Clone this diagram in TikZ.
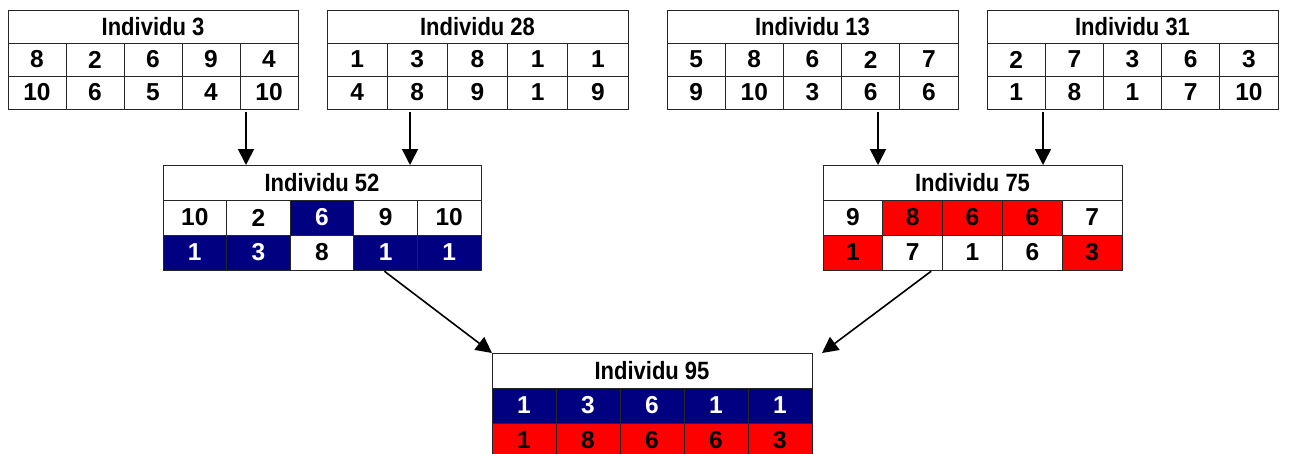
\documentclass[tikz,border=0pt]{standalone}
\usepackage{fontspec}
\setmainfont{Liberation Sans}
\newfontfamily\titlefont{Liberation Sans}[FakeStretch=0.88]
\usetikzlibrary{arrows.meta}
\definecolor{gnavy}{RGB}{0,0,128}
\definecolor{gred}{RGB}{255,0,0}
\tikzset{
  base/.style={draw=black!85, line width=0.9pt, inner sep=0pt, outer sep=0pt,
    anchor=north west, font=\bfseries\fontsize{24.5}{24.5}\selectfont},
  titlecell/.style={base, fill=white, font=\titlefont\bfseries\fontsize{25}{25}\selectfont},
  cw/.style={base, fill=white, text=black},
  cb/.style={base, fill=gnavy, text=white},
  cr/.style={base, fill=gred, text=black},
  arr/.style={line width=1.6pt, -{Triangle[width=16pt,length=16pt]}},
}
% #1 name, #2 left, #3 top, #4 column width, #5 row height,
% #6 title, #7 upper row (value/style), #8 lower row (value/style)
\newcommand\gtable[8]{%
  \node[titlecell, minimum width={5*#4}, minimum height=#5] (#1) at (#2,#3) {#6};
  \foreach \v/\s [count=\i] in {#7}
    \node[\s, minimum width=#4, minimum height=#5] (#1-a\i) at ({#2+(\i-1)*#4},{#3+#5}) {\v};
  \foreach \v/\s [count=\i] in {#8}
    \node[\s, minimum width=#4, minimum height=#5] (#1-b\i) at ({#2+(\i-1)*#4},{#3+2*#5}) {\v};
}
\begin{document}
\begin{tikzpicture}[x=1pt, y=-1pt]
  \useasboundingbox (0,0) rectangle (1289,453);
  % parents
  \gtable{t3}{8}{10}{58}{33}{Individu 3}
    {8/cw,2/cw,6/cw,9/cw,4/cw}{10/cw,6/cw,5/cw,4/cw,10/cw}
  \gtable{t28}{327}{10}{60.2}{33}{Individu 28}
    {1/cw,3/cw,8/cw,1/cw,1/cw}{4/cw,8/cw,9/cw,1/cw,9/cw}
  \gtable{t13}{667}{10}{58.2}{33}{Individu 13}
    {5/cw,8/cw,6/cw,2/cw,7/cw}{9/cw,10/cw,3/cw,6/cw,6/cw}
  \gtable{t31}{987}{10}{58.2}{33}{Individu 31}
    {2/cw,7/cw,3/cw,6/cw,3/cw}{1/cw,8/cw,1/cw,7/cw,10/cw}
  % offspring
  \gtable{t52}{163}{165}{63.6}{35}{Individu 52}
    {10/cw,2/cw,6/cb,9/cw,10/cw}{1/cb,3/cb,8/cw,1/cb,1/cb}
  \gtable{t75}{823}{165}{59.8}{35}{Individu 75}
    {9/cw,8/cr,6/cr,6/cr,7/cw}{1/cr,7/cw,1/cw,6/cw,3/cr}
  \gtable{t95}{492}{353}{64}{35}{Individu 95}
    {1/cb,3/cb,6/cb,1/cb,1/cb}{1/cr,8/cr,6/cr,6/cr,3/cr}
  % connectors
  \draw[arr, shorten <=3pt] ([xshift=238pt]t3-b1.south west) -- ([xshift=238pt]t3-b1.south west |- t52.north);
  \draw[arr, shorten <=3pt] ([xshift=83pt]t28-b1.south west) -- ([xshift=83pt]t28-b1.south west |- t52.north);
  \draw[arr, shorten <=3pt] ([xshift=211pt]t13-b1.south west) -- ([xshift=211pt]t13-b1.south west |- t75.north);
  \draw[arr, shorten <=3pt] ([xshift=56pt]t31-b1.south west) -- ([xshift=56pt]t31-b1.south west |- t75.north);
  \draw[arr, shorten <=2pt] ([xshift=29pt]t52-b4.south west) -- (t95.north west);
  \draw[arr, shorten <=2pt] ([xshift=50pt]t75-b2.south west) -- ([xshift=10pt]t95.north east);
\end{tikzpicture}
\end{document}
